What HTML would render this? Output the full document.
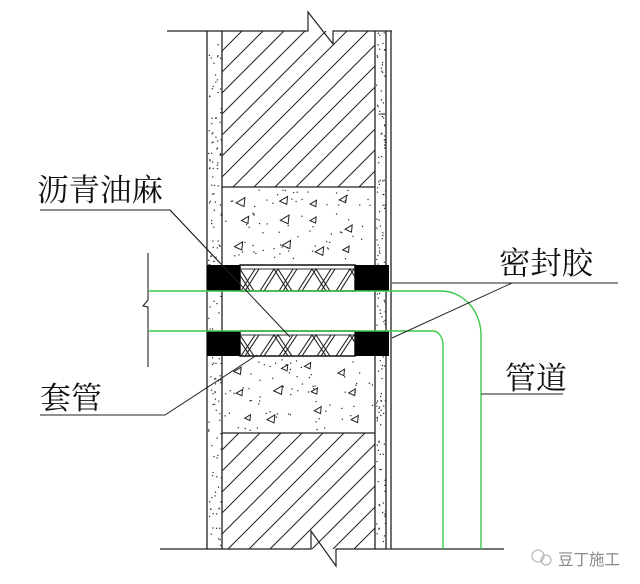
<!DOCTYPE html>
<html><head><meta charset="utf-8"><style>
html,body{margin:0;padding:0;background:#fff;width:640px;height:584px;overflow:hidden}
svg{display:block}
text{font-family:"Liberation Serif","Noto Serif CJK SC","Noto Sans CJK SC",serif;fill:#111}
</style></head><body>
<svg id="s" width="640" height="584" viewBox="0 0 640 584" xmlns="http://www.w3.org/2000/svg">
<defs>
<pattern id="hatch" patternUnits="userSpaceOnUse" width="21" height="21">
<line x1="0" y1="21" x2="21" y2="0" stroke="#222" stroke-width="1"/>
<line x1="-5" y1="5" x2="5" y2="-5" stroke="#222" stroke-width="1"/>
<line x1="16" y1="26" x2="26" y2="16" stroke="#222" stroke-width="1"/>
</pattern>
<clipPath id="c1"><rect x="240" y="265" width="115" height="26"/></clipPath>
<clipPath id="c2"><rect x="240" y="331" width="115" height="25"/></clipPath>
</defs>
<g stroke="#222" stroke-width="1.2" fill="none">
<polyline points="167,31 308,31 308,12 333,44 333,31 392,31"/>
<polyline points="160,549 311,549 311,531 336,566 336,549 504,549"/>
</g>
<rect x="222" y="31" width="153" height="156" fill="url(#hatch)"/>
<rect x="222" y="433" width="153" height="116" fill="url(#hatch)"/>
<g id="dots"></g>
<g stroke="#222" stroke-width="1.3" fill="none">
<line x1="207" y1="31" x2="207" y2="549"/>
<line x1="222" y1="31" x2="222" y2="549"/>
<line x1="375" y1="31" x2="375" y2="549"/>
<line x1="386" y1="31" x2="386" y2="549"/>
<line x1="391" y1="31" x2="391" y2="549"/>
<line x1="222" y1="187" x2="375" y2="187"/>
<line x1="222" y1="433" x2="375" y2="433"/>
</g>
<rect x="240" y="265" width="115" height="26" fill="#fff" stroke="#111" stroke-width="1.5"/>
<rect x="240" y="331" width="115" height="25" fill="#fff" stroke="#111" stroke-width="1.5"/>
<line x1="240" y1="269" x2="355" y2="269" stroke="#333"/>
<line x1="240" y1="335" x2="355" y2="335" stroke="#333"/>
<g id="hemp1" clip-path="url(#c1)" stroke="#222" stroke-width="1.1" fill="none"></g>
<g id="hemp2" clip-path="url(#c2)" stroke="#222" stroke-width="1.1" fill="none"></g>
<rect x="207" y="265" width="33" height="26" fill="#000"/>
<rect x="355" y="265" width="34" height="26" fill="#000"/>
<rect x="207" y="331" width="33" height="25" fill="#000"/>
<rect x="355" y="331" width="34" height="25" fill="#000"/>
<g stroke="#3cc84a" stroke-width="1.4" fill="none">
<path d="M149,291 L441,291 A40,44 0 0 1 481,335 L481,549"/>
<path d="M149,331 L433,331 A10,14 0 0 1 443,345 L443,549"/>
</g>
<polyline points="148,253 148,300 143,306 148,307 148,367" stroke="#222" stroke-width="1.1" fill="none"/>
<g stroke="#222" stroke-width="1" fill="none">
<polyline points="40,210 170,210 220,263"/>
<line x1="170" y1="210" x2="290" y2="337"/>
<polyline points="40,415 165,415 257,355"/>
<line x1="392" y1="283" x2="618" y2="283"/>
<line x1="392" y1="338" x2="512" y2="283"/>
<line x1="481" y1="394" x2="563" y2="394"/>
</g>
<text x="37" y="201" font-size="31" textLength="126" lengthAdjust="spacingAndGlyphs">沥青油麻</text>
<text x="40" y="409" font-size="31" textLength="62" lengthAdjust="spacingAndGlyphs">套管</text>
<text x="499" y="274" font-size="31" textLength="94" lengthAdjust="spacingAndGlyphs">密封胶</text>
<text x="505" y="389" font-size="31" textLength="62" lengthAdjust="spacingAndGlyphs">管道</text>
<g stroke="#aaa" fill="none" stroke-width="1"><circle cx="538" cy="556" r="6"/><circle cx="546" cy="560" r="5"/></g>
<text x="558" y="565" font-size="16" style="fill:#888;font-family:'Noto Sans CJK SC',sans-serif" textLength="62" lengthAdjust="spacingAndGlyphs">豆丁施工</text>
</svg>
<script>
(function(){
var ns="http://www.w3.org/2000/svg";
var seed=12345;function r(){seed=(seed*16807)%2147483647;return seed/2147483647;}
for(var k=0;k<10;k++)r();
var g=document.getElementById("dots");
function dot(x,y){var c=document.createElementNS(ns,"rect");c.setAttribute("x",x);c.setAttribute("y",y);c.setAttribute("width",1.2);c.setAttribute("height",1.2);c.setAttribute("fill","#222");g.appendChild(c);}
function tri(x,y,s){var p=document.createElementNS(ns,"polygon");p.setAttribute("points",x+","+(y+s*0.6)+" "+(x+s)+","+y+" "+(x+s*0.9)+","+(y+s));p.setAttribute("fill","none");p.setAttribute("stroke","#222");p.setAttribute("stroke-width","1");g.appendChild(p);}
var i;
for(i=0;i<160;i++){dot(208+r()*13,31+r()*518);dot(376+r()*9,31+r()*518);}
[[187,264],[356,433]].forEach(function(b){
for(i=0;i<70;i++)dot(224+r()*150,b[0]+2+r()*(b[1]-b[0]-4));
for(var gx=0;gx<4;gx++)for(var gy=0;gy<3;gy++){
tri(230+gx*36+r()*20,b[0]+6+gy*22+r()*10,5+r()*4);}
});
function hemp(id,y0,y1){var h=document.getElementById(id);
for(var x=222;x<370;x+=38){
[0,4].forEach(function(o){
var a=document.createElementNS(ns,"polyline");
a.setAttribute("points",(x+o)+","+y1+" "+(x+o+14)+","+y0+" "+(x+o+28)+","+y1);h.appendChild(a);
var b=document.createElementNS(ns,"line");b.setAttribute("x1",x+o+19);b.setAttribute("y1",y1);b.setAttribute("x2",x+o+33);b.setAttribute("y2",y0);h.appendChild(b);
});}}
hemp("hemp1",269,291);hemp("hemp2",335,356);
})();
</script>
</body></html>
